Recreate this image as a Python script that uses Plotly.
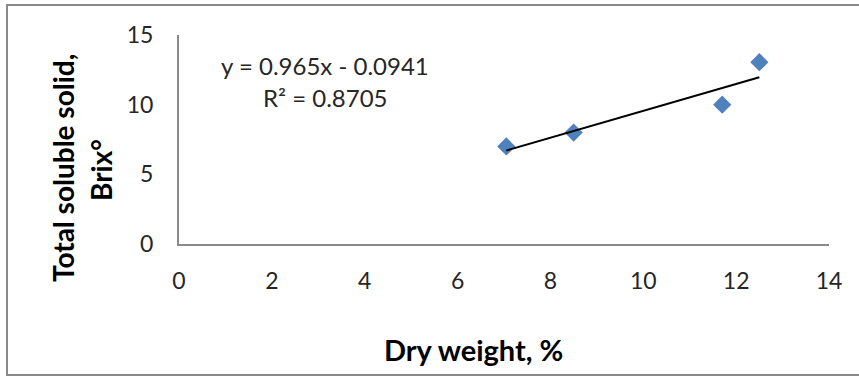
import plotly.graph_objects as go

dry_weight = [7.05, 8.5, 11.7, 12.5]
brix = [7.0, 8.0, 10.0, 13.05]
slope = 0.965
intercept = -0.0941
eq_text = "y = 0.965x - 0.0941"
r2_text = "R² = 0.8705"
x_ticks = [0, 2, 4, 6, 8, 10, 12, 14]
y_ticks = [0, 5, 10, 15]

W, H = 859, 378
ml, mr, mt, mb = 179, 30, 35, 134
pw, ph = W - ml - mr, H - mt - mb

FONT = "Lato"
fig = go.Figure()
fig.add_trace(go.Scatter(x=dry_weight, y=brix, mode="markers",
                         marker=dict(symbol="diamond", size=14, color="#4F81BD"),
                         showlegend=False))
xs = [min(dry_weight), max(dry_weight)]
fig.add_trace(go.Scatter(x=xs, y=[slope * v + intercept for v in xs], mode="lines",
                         line=dict(color="black", width=2), showlegend=False))

def px2paper_x(p):
    return (p - ml) / pw

def px2paper_y(p):
    return (H - mb - p) / ph

fig.update_layout(
    width=W, height=H, margin=dict(l=ml, r=mr, t=mt, b=mb),
    paper_bgcolor="white", plot_bgcolor="white",
    font=dict(family=FONT, size=23, color="#262626"),
    xaxis=dict(range=[0, 14], tickvals=x_ticks, showgrid=False, zeroline=False,
               showline=True, linecolor="#8a8a8a", linewidth=2,
               ticks="outside", ticklen=15, tickcolor="rgba(0,0,0,0)"),
    yaxis=dict(range=[0, 15], tickvals=y_ticks, showgrid=False, zeroline=False,
               showline=True, linecolor="#8a8a8a", linewidth=2,
               ticks="outside", ticklen=19, tickcolor="rgba(0,0,0,0)"),
    annotations=[
        dict(text=eq_text, x=px2paper_x(325), y=px2paper_y(65), xref="paper", yref="paper",
             showarrow=False, xanchor="center", yanchor="middle", font=dict(size=24)),
        dict(text=r2_text, x=px2paper_x(325), y=px2paper_y(97), xref="paper", yref="paper",
             showarrow=False, xanchor="center", yanchor="middle", font=dict(size=24)),
        dict(text="<b>Dry weight, %</b>", x=px2paper_x(473), y=px2paper_y(349),
             xref="paper", yref="paper", showarrow=False, xanchor="center", yanchor="middle",
             font=dict(size=29, color="black")),
        dict(text="<b>Total soluble solid,</b>", x=px2paper_x(63), y=px2paper_y(168),
             xref="paper", yref="paper", showarrow=False, xanchor="center", yanchor="middle",
             textangle=-90, font=dict(size=28, color="black")),
        dict(text="<b>Brix°</b>", x=px2paper_x(101), y=px2paper_y(170),
             xref="paper", yref="paper", showarrow=False, xanchor="center", yanchor="middle",
             textangle=-90, font=dict(size=28, color="black")),
    ],
    shapes=[dict(type="rect", xref="paper", yref="paper",
                 x0=px2paper_x(7), x1=px2paper_x(866), y0=px2paper_y(375), y1=px2paper_y(5),
                 line=dict(color="#8a8a8a", width=2))],
)
fig.write_html("out.html", config={"displayModeBar": False},
               post_script="document.body.style.margin='0';document.body.style.overflow='hidden';")
